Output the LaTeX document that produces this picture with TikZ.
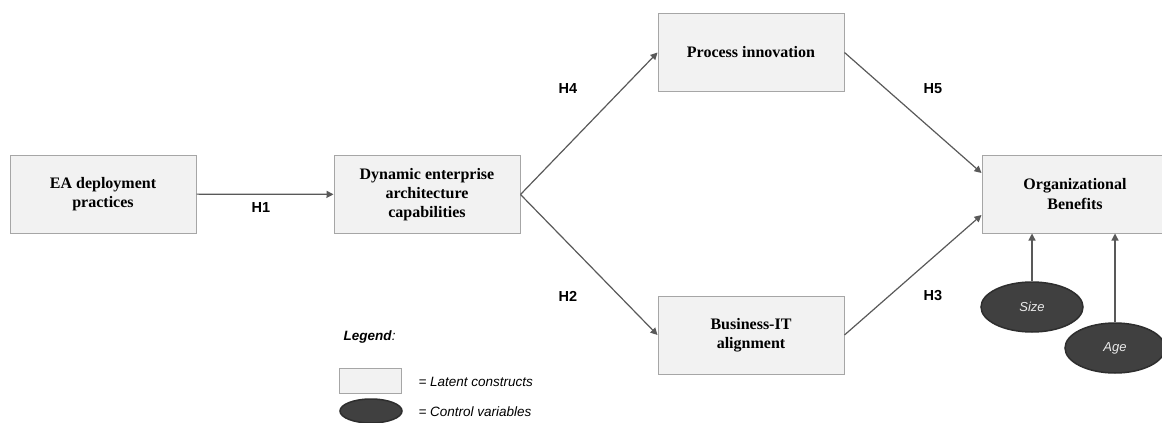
\documentclass[tikz,border=0pt]{standalone}
\usepackage{fontspec}
\setmainfont{Liberation Serif}
\setsansfont{Liberation Sans}
\usetikzlibrary{shapes.geometric, arrows.meta}
\definecolor{boxfill}{HTML}{F2F2F2}
\definecolor{boxline}{HTML}{A6A6A6}
\definecolor{ctrlfill}{HTML}{404040}
\definecolor{ctrlline}{HTML}{2E2E2E}
\definecolor{arrowgray}{HTML}{595959}
\begin{document}
\begin{tikzpicture}[x=1pt, y=-1pt, text centered,
	construct/.style={rectangle, draw=boxline, fill=boxfill, line width=1pt, minimum width=186pt, minimum height=78pt, align=center, font=\fontsize{16}{19.3}\selectfont\bfseries},
	control/.style={ellipse, draw=ctrlline, fill=ctrlfill, line width=1.5pt, inner sep=0pt, text=white!92!black, font=\sffamily\itshape\fontsize{13}{15}\selectfont},
	hyp/.style={font=\sffamily\bfseries\fontsize{14.5}{17}\selectfont},
	legtext/.style={anchor=west, font=\sffamily\itshape\fontsize{13.5}{16}\selectfont},
	path/.style={draw=arrowgray, line width=1.2pt, -{Triangle[length=7pt, width=7pt]}}]
	\useasboundingbox (0,0) rectangle (1162,423);
	\node[construct] (deployment) at (103,194) {EA deployment\\practices};
	\node[construct] (dynamicEA) at (427,194.5) {Dynamic enterprise\\architecture\\capabilities};
	\node[construct] (processInno) at (751,52.5) {Process innovation};
	\node[construct] (bizIT) at (751,335) {Business-IT\\alignment};
	\node[construct] (orgBenefits) at (1075,194) {Organizational\\Benefits};
	\node[control, minimum width=102pt, minimum height=50pt] (size) at (1032,307) {Size};
	\node[control, minimum width=100pt, minimum height=50pt] (age) at (1115,348) {Age};
	\draw[path] (deployment) -- (dynamicEA);
	\draw[path] (dynamicEA.east) -- (processInno.west);
	\draw[path] (dynamicEA.east) -- (bizIT.west);
	\draw[path] (processInno.east) -- ([yshift=21pt]orgBenefits.west);
	\draw[path] (bizIT.east) -- ([yshift=-21pt]orgBenefits.west);
	\draw[path] (size.north) -- (size.north |- orgBenefits.south);
	\draw[path] (age.north) -- (age.north |- orgBenefits.south);
	\node[hyp] (hOne) at (261,208) {H1};
	\node[hyp] (hFour) at (568,89) {H4};
	\node[hyp] (hTwo) at (568,296) {H2};
	\node[hyp] (hFive) at (933,89) {H5};
	\node[hyp] (hThree) at (933,296) {H3};
	\node[legtext, font=\sffamily\fontsize{13.5}{16}\selectfont] (legendText) at (340,337) {\textbf{\textit{Legend}}\textit{:}};
	\node[rectangle, draw=boxline, fill=boxfill, line width=1pt, minimum width=62pt, minimum height=25pt] (legendBox) at (370,380.5) {};
	\node[control, minimum width=62pt, minimum height=24pt] (legendEll) at (371,411) {};
	\node[legtext] (latentText) at (415,382) {= Latent constructs};
	\node[legtext] (controlText) at (415,412) {= Control variables};
\end{tikzpicture}
\end{document}
